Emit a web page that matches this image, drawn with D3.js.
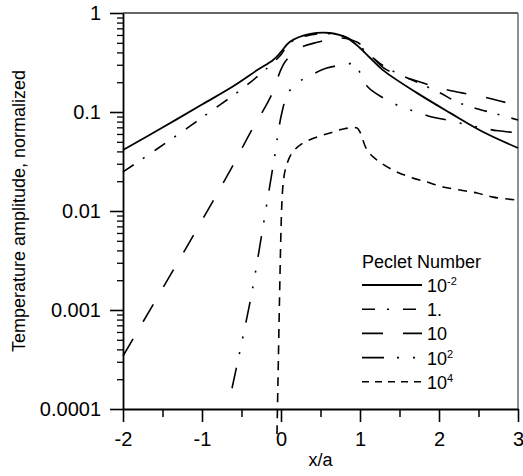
<!DOCTYPE html>
<html>
<head>
<meta charset="utf-8">
<script src="https://cdn.jsdelivr.net/npm/d3@7"></script>
<style>
  body { margin: 0; background: #fff; }
  text { font-family: Arial, "Liberation Sans", sans-serif; fill: #000; }
</style>
</head>
<body>
<svg id="chart" width="523" height="476"></svg>
<script>
// values (x/a, normalized amplitude)
const pe001X = [-2, -1.5, -1.0, -0.6, -0.3, -0.1, 0, 0.11, 0.37, 0.62, 0.84, 1.0, 1.13, 1.29, 1.72, 2.14, 2.56, 3];
const pe001Y = [0.0413, 0.0697, 0.119, 0.183, 0.265, 0.335, 0.404, 0.509, 0.614, 0.628, 0.558, 0.443, 0.351, 0.265, 0.156, 0.098, 0.0628, 0.0433];

const pe1X = [-2, -1.57, -1.13, -0.85, -0.58, -0.43, -0.18, 0, 0.11, 0.37, 0.62, 0.84, 1.0, 1.13, 1.29, 1.5, 1.75, 2.0, 2.23, 2.45, 2.73, 3];
const pe1Y = [0.0248, 0.0423, 0.074, 0.107, 0.152, 0.1875, 0.275, 0.38, 0.50, 0.60, 0.617, 0.562, 0.457, 0.372, 0.295, 0.24, 0.195, 0.158, 0.126, 0.11, 0.0955, 0.083];

const pe10X = [-2, -1.114, -0.62, -0.39, -0.14, 0.05, 0.24, 0.47, 0.72, 0.96, 1.13, 1.29, 1.42, 1.80, 2.05, 2.29, 2.56, 2.77, 3];
const pe10Y = [0.000343, 0.00558, 0.0278, 0.0617, 0.138, 0.32, 0.443, 0.509, 0.562, 0.509, 0.38, 0.282, 0.248, 0.196, 0.171, 0.156, 0.142, 0.129, 0.117];

const pe100X = [-0.62, -0.38, -0.23, -0.09, 0.01, 0.09, 0.22, 0.41, 0.58, 0.85, 0.95, 1.0, 1.10, 1.28, 1.53, 1.72, 1.91, 2.10, 2.37, 2.54, 2.75, 3];
const pe100Y = [0.000162, 0.00135, 0.00676, 0.032, 0.0977, 0.155, 0.2, 0.242, 0.278, 0.305, 0.313, 0.248, 0.179, 0.141, 0.112, 0.1, 0.089, 0.083, 0.074, 0.069, 0.0646, 0.0617];

const pe1e4X = [-0.051, -0.038, -0.019, 0.0, 0.013, 0.032, 0.063, 0.139, 0.278, 0.456, 0.62, 0.785, 0.962, 1.0, 1.089, 1.215, 1.418, 1.633, 1.848, 2.051, 2.266, 2.48, 2.684, 3.0];
const pe1e4Y = [0.0000558, 0.000196, 0.00126, 0.00643, 0.0129, 0.0206, 0.0278, 0.0385, 0.0486, 0.0558, 0.0614, 0.0673, 0.0689, 0.0628, 0.0413, 0.0327, 0.0259, 0.022, 0.0196, 0.0175, 0.0163, 0.0152, 0.0138, 0.0129];

const xTicks = [-2, -1, 0, 1, 2, 3];
const xMinorTicks = [-1.5, -0.5, 0.5, 1.5, 2.5];
const yTicks = [0.0001, 0.001, 0.01, 0.1, 1];
const yTickLabels = ["0.0001", "0.001", "0.01", "0.1", "1"];

const legendBase = ["10", "1.", "10", "10", "10"];
const legendSup = ["-2", "", "", "2", "4"];

// line styles, same order as the legend
const series = [
    { xs: pe001X, ys: pe001Y, dash: null, width: 1.8 },
    { xs: pe1X, ys: pe1Y, dash: "13 11 2 12", width: 1.6 },
    { xs: pe10X, ys: pe10Y, dash: "20 20", width: 1.6 },
    { xs: pe100X, ys: pe100Y, dash: "21 14 2 14 2 14", width: 1.6 },
    { xs: pe1e4X, ys: pe1e4Y, dash: "9 7", width: 1.6 }
];
const legendDash = [null, "13 12 2 14", "21 20", "22 13 2 14 2 13", "7 6"];

const plotL = 123, plotR = 518, plotT = 13, plotB = 409;

const svg = d3.select("#chart");

const x = d3.scaleLinear().domain([-2, 3]).range([plotL, plotR]);
const y = d3.scaleLog().domain([0.0001, 1]).range([plotB, plotT]);

// minor log ticks 2..9 in each decade
const yMinor = [];
yTicks.slice(0, -1).forEach(t => {
    for (let k = 2; k <= 9; k++) yMinor.push(t * k);
});

// frame on top and right
svg.append("line")
    .attr("x1", plotL).attr("x2", plotR).attr("y1", plotT).attr("y2", plotT)
    .attr("stroke", "#333").attr("stroke-width", 1.3);
svg.append("line")
    .attr("x1", plotR).attr("x2", plotR).attr("y1", plotT).attr("y2", plotB)
    .attr("stroke", "#555").attr("stroke-width", 1.3);

// left axis: minor then major
svg.append("g")
    .attr("transform", `translate(${plotL},0)`)
    .call(d3.axisLeft(y).tickValues(yMinor).tickSize(6).tickSizeOuter(0).tickFormat(""))
    .call(g => g.select(".domain").remove())
    .call(g => g.selectAll("line").attr("stroke-width", 1.3));

svg.append("g")
    .attr("transform", `translate(${plotL},0)`)
    .call(d3.axisLeft(y).tickValues(yTicks).tickSize(13).tickSizeOuter(0).tickPadding(9)
        .tickFormat((d, i) => yTickLabels[i]))
    .call(g => g.select(".domain").attr("stroke-width", 1.8))
    .call(g => g.selectAll("line").attr("stroke-width", 1.6))
    .call(g => g.selectAll("text").style("font-size", "20px").attr("fill", "#000"));

// bottom axis
svg.append("g")
    .attr("transform", `translate(0,${plotB})`)
    .call(d3.axisBottom(x).tickValues(xMinorTicks).tickSize(8).tickSizeOuter(0).tickFormat(""))
    .call(g => g.select(".domain").remove())
    .call(g => g.selectAll("line").attr("stroke-width", 1.5));

svg.append("g")
    .attr("transform", `translate(0,${plotB})`)
    .call(d3.axisBottom(x).tickValues(xTicks).tickSize(13).tickSizeOuter(0).tickPadding(10)
        .tickFormat(d => d))
    .call(g => g.select(".domain").attr("stroke-width", 1.8))
    .call(g => g.selectAll("line").attr("stroke-width", 1.6))
    .call(g => g.selectAll("text").style("font-size", "20px").attr("fill", "#000"));

// axis titles
svg.append("text")
    .attr("x", (plotL + plotR) / 2)
    .attr("y", 466)
    .attr("text-anchor", "middle")
    .style("font-size", "18px")
    .text("x/a");

svg.append("text")
    .attr("transform", `translate(25,${(plotT + plotB) / 2}) rotate(-90)`)
    .attr("text-anchor", "middle")
    .style("font-size", "18px")
    .text("Temperature amplitude, normalized");

// curves
const line = d3.line()
    .x(d => x(d[0]))
    .y(d => y(d[1]))
    .curve(d3.curveCatmullRom.alpha(0.5));

series.forEach(s => {
    const pts = s.xs.map((v, i) => [v, s.ys[i]]);
    svg.append("path")
        .datum(pts)
        .attr("d", line)
        .attr("fill", "none")
        .attr("stroke", "#000")
        .attr("stroke-width", s.width)
        .attr("stroke-dasharray", s.dash);
});

// legend
const lg = svg.append("g");
lg.append("text")
    .attr("x", 362).attr("y", 268)
    .style("font-size", "18px")
    .text("Peclet Number");

legendBase.forEach((b, i) => {
    const ry = 285 + i * 24.2;
    lg.append("line")
        .attr("x1", 362).attr("x2", 422)
        .attr("y1", ry).attr("y2", ry)
        .attr("stroke", "#000")
        .attr("stroke-width", series[i].width)
        .attr("stroke-dasharray", legendDash[i]);
    const t = lg.append("text")
        .attr("x", 427).attr("y", ry + 7)
        .style("font-size", "18px");
    t.append("tspan").text(b);
    if (legendSup[i]) {
        t.append("tspan")
            .attr("dy", -7)
            .style("font-size", "11px")
            .text(legendSup[i]);
    }
});
</script>
</body>
</html>
